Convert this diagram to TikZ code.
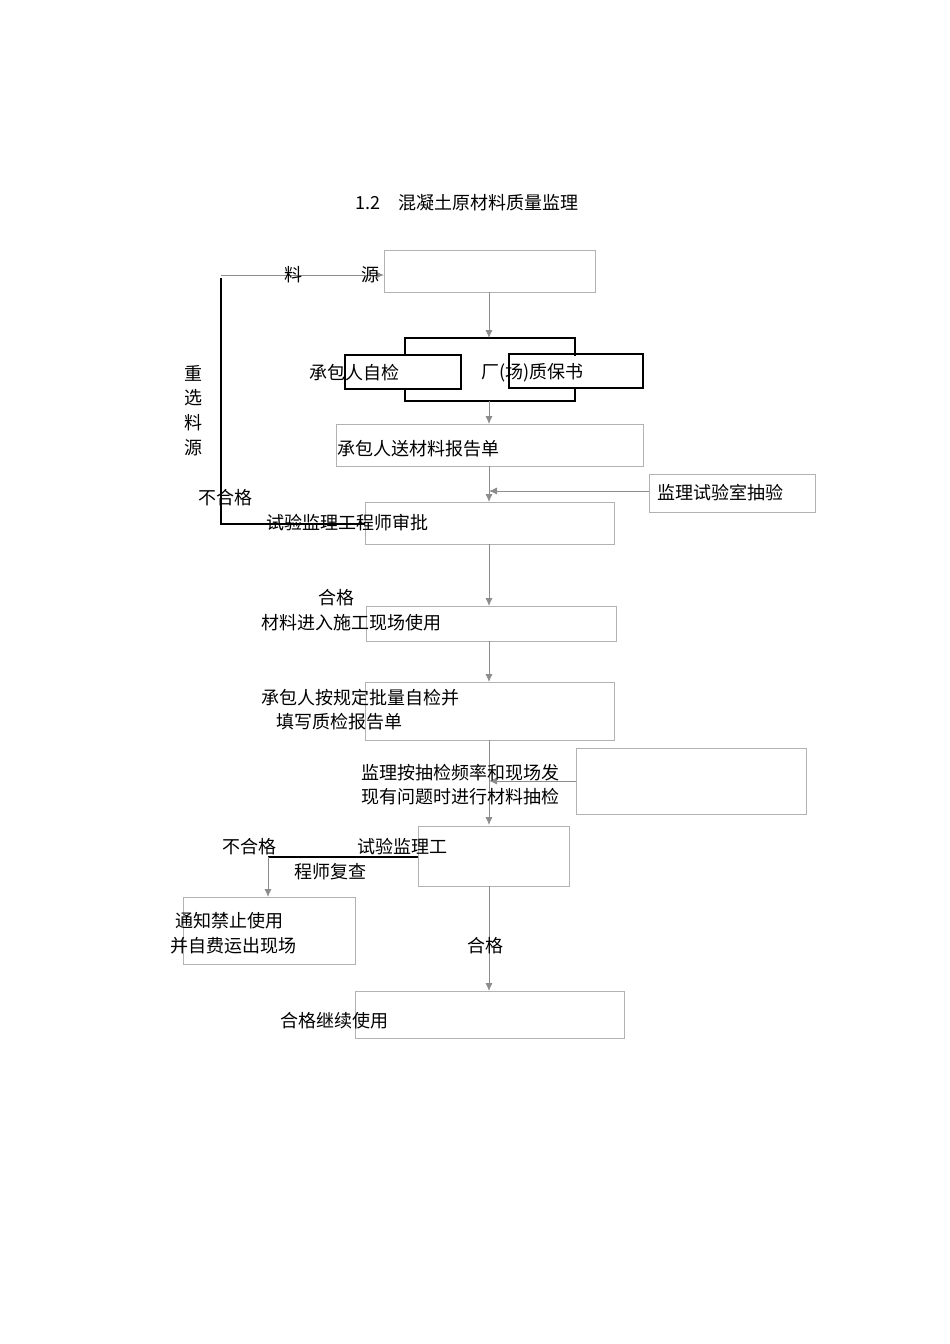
\documentclass[tikz,border=0pt]{standalone}
\usepackage{fontspec}
\setmainfont{Noto Sans CJK SC}
\usetikzlibrary{arrows.meta}
\begin{document}
\begin{tikzpicture}[x=1pt,y=-1pt,
  gbox/.style={draw=black!30,line width=0.8pt},
  kbox/.style={draw=black,line width=1.3pt},
  txt/.style={anchor=west,inner sep=0pt,font=\fontsize{18}{22}\selectfont},
  gline/.style={draw=black!45,line width=0.8pt},
  kline/.style={draw=black,line width=1.8pt},
  arr/.style={-{Latex[length=8pt,width=7pt]}}]
\useasboundingbox (0,0) rectangle (950,1344);
\node[txt] (title) at (355,203) {1.2\quad 混凝土原材料质量监理};
% boxes
\draw[gbox] (384,250) rectangle (595,292) coordinate (b1);
\draw[kbox] (345,355) rectangle (461,389);
\draw[kbox] (509,354) rectangle (643,388);
\draw[gbox] (336,424) rectangle (643,466);
\draw[gbox] (649,474) rectangle (815,512);
\draw[gbox] (365,502) rectangle (614,544);
\draw[gbox] (366,606) rectangle (616,641);
\draw[gbox] (365,682) rectangle (614,740);
\draw[gbox] (576,748) rectangle (806,814);
\draw[gbox] (418,826) rectangle (569,886);
\draw[gbox] (183,897) rectangle (355,964);
\draw[gbox] (355,991) rectangle (624,1038);
% brackets
\draw[kline,line width=1.3pt] (405,356) -- (405,338) -- (575,338) -- (575,356);
\draw[kline,line width=1.3pt] (405,389) -- (405,401) -- (575,401) -- (575,389);
% arrows
\coordinate (p1) at (489,292);
\coordinate (p2) at (489,338);
\draw[gline,arr] (p1) -- (p2);
\draw[gline,arr] (489,401) -- (489,424);
\draw[gline,arr] (489,466) -- (489,502);
\draw[gline,arr] (649,491) -- (489,491);
\draw[gline,arr] (489,544) -- (489,606);
\draw[gline,arr] (489,641) -- (489,682);
\draw[gline,arr] (489,740) -- (489,825);
\draw[gline,arr] (576,781) -- (489,781);
\draw[gline,arr] (489,886) -- (489,991);
% loop back
\draw[kline] (365,524) -- (221,524) -- (221,278);
\draw[gline,arr] (221,275) -- (384,275);
\draw[kline] (418,857) -- (268,857);
\draw[gline,arr] (268,857) -- (268,897);
% texts
\node[txt] (t1) at (284,275) {料};
\node[txt] (t1b) at (361,275) {源};
\node[txt] (t2) at (309,373) {承包人自检};
\node[txt] (t3) at (481,373) {厂(场)质保书};
\node[txt] (t4) at (337,449) {承包人送材料报告单};
\node[txt] (t5) at (657,493) {监理试验室抽验};
\node[txt] (t6) at (198,498) {不合格};
\node[txt] (t7) at (266,523) {试验监理工程师审批};
\node[txt] (r1) at (184,373) {重};
\node[txt] (r2) at (184,398) {选};
\node[txt] (r3) at (184,423) {料};
\node[txt] (r4) at (184,448) {源};
\node[txt] (t8) at (318,598) {合格};
\node[txt] (t9) at (261,623) {材料进入施工现场使用};
\node[txt] (t10) at (261,698) {承包人按规定批量自检并};
\node[txt] (t11) at (276,722) {填写质检报告单};
\node[txt] (t12) at (361,773) {监理按抽检频率和现场发};
\node[txt] (t13) at (361,797) {现有问题时进行材料抽检};
\node[txt] (t14) at (222,847) {不合格};
\node[txt] (t15) at (357,847) {试验监理工};
\node[txt] (t16) at (294,872) {程师复查};
\node[txt] (t17) at (175,921) {通知禁止使用};
\node[txt] (t18) at (170,946) {并自费运出现场};
\node[txt] (t19) at (467,946) {合格};
\node[txt] (t20) at (280,1021) {合格继续使用};
\end{tikzpicture}
\end{document}
